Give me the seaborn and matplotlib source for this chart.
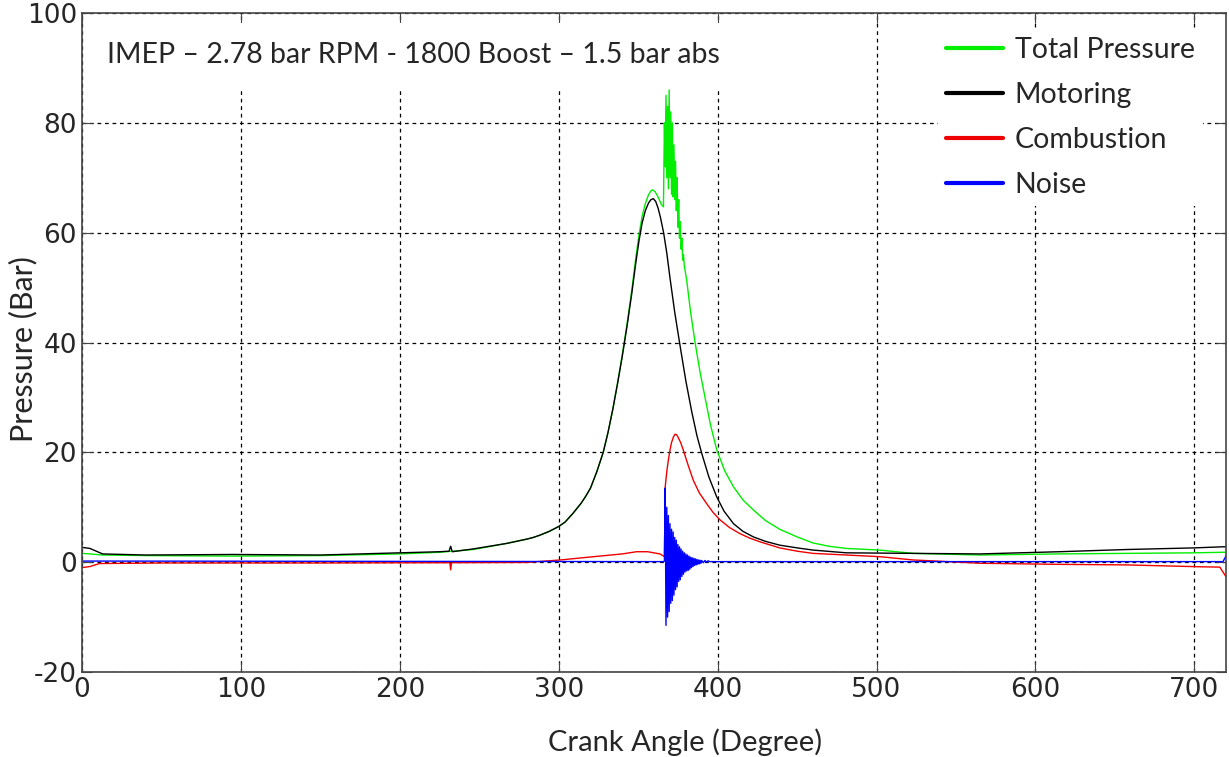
import seaborn as sns
import matplotlib.pyplot as plt

# crank angle (deg) and pressure (bar)
motoring_angle = [0, 5, 13, 40, 95, 150, 200, 225, 231, 232, 233, 246, 267, 280, 284, 288,
                  294, 296, 300, 304, 306.5, 309, 311.5, 314, 317, 320, 324, 328, 331, 334,
                  337, 340, 343, 346, 348.5, 350.5, 352.5, 354.5, 356.5, 358, 359.5, 361,
                  362.5, 364, 366, 368, 370, 373, 376.3, 380, 383.7, 387, 390, 394.5, 399.4,
                  404, 410, 416, 422.5, 430, 439, 450, 460, 481, 523, 565, 615, 657, 700,
                  718, 720]
motoring = [2.7, 2.5, 1.5, 1.3, 1.4, 1.3, 1.7, 1.9, 2.0, 2.9, 1.9, 2.4, 3.4, 4.2, 4.5, 4.9,
            5.6, 5.9, 6.5, 7.3, 8.1, 8.9, 9.8, 10.7, 12.0, 13.5, 16.5, 20.0, 23.6, 27.8,
            32.5, 37.5, 43.0, 49.0, 54.5, 58.5, 61.8, 64.0, 65.4, 66.0, 66.2, 65.7,
            64.5, 62.8, 60.0, 56.3, 51.8, 45.5, 39.5, 33.0, 27.4, 23.0, 19.8, 15.5, 11.9,
            9.3, 7.0, 5.6, 4.6, 3.8, 3.1, 2.6, 2.2, 1.7, 1.6, 1.5, 1.9, 2.3, 2.6,
            2.8, 2.8]

total_angle = [0, 5, 13, 40, 95, 150, 200, 225, 246, 267, 280, 284, 288, 294, 296, 300, 304,
               306.5, 309, 311.5, 314, 317, 320, 324, 328, 331, 334, 337, 340, 343, 346,
               348.5, 350.5, 352.5, 354.5, 356.5, 358, 359, 360.5, 362, 364.5, 365.9,
               366.5, 367.0, 367.5, 368.0, 368.5, 369.0, 369.5, 370.0, 370.5, 371.0,
               371.5, 372.0, 372.5, 373.0, 373.5, 374.0, 374.5, 375.0, 375.5, 376.0,
               376.5, 377.0, 377.5, 378.0, 378.5, 379.0,
               380.5, 383, 385.8, 389, 392, 395.5, 399.4, 404.5, 410, 416, 422.5, 430,
               439, 450, 460, 470, 481, 502, 523, 565, 615, 657, 700, 718, 720]
total_pressure = [1.6, 1.5, 1.3, 1.2, 1.1, 1.2, 1.5, 1.8, 2.3, 3.4, 4.2, 4.5, 4.9, 5.6, 5.9, 6.5, 7.3,
                  8.1, 8.9, 9.8, 10.7, 12.0, 13.5, 16.5, 20.0, 23.6, 27.8, 32.6, 37.8, 43.4, 49.6,
                  55.4, 59.6, 63.0, 65.3, 66.9, 67.6, 67.8, 67.5, 66.8, 65.2, 64.7,
                  80.0, 72.0, 85.0, 70.0, 83.0, 68.0, 86.0, 70.0, 82.0, 67.0,
                  80.0, 66.5, 76.0, 66.0, 73.0, 64.0, 70.0, 61.0, 66.0, 59.0,
                  62.0, 57.0, 59.0, 55.0, 56.0, 54.0,
                  51.4, 45.5, 40.0, 34.5, 30.1, 25.0, 20.5, 16.6, 13.7, 11.3, 9.5, 7.6,
                  6.0, 4.6, 3.5, 2.9, 2.5, 2.2, 1.6, 1.3, 1.5, 1.6, 1.7, 1.8, 1.8]

combustion_angle = [0, 5, 11, 50, 150, 230, 231.5, 232, 232.5, 234, 280, 301, 322, 340, 349,
                    356, 363.7, 366.5, 367, 368, 369, 370, 371, 372.2, 373.2, 374.2, 375,
                    376.7, 378.4, 381.5, 384.7, 388.5, 393, 397, 401.5, 407.5, 414, 420,
                    426.7, 439, 450, 460, 481, 502, 523, 545, 565, 615, 657, 705, 716, 720]
combustion = [-1.0, -0.8, -0.25, -0.15, -0.15, -0.1, -0.1, -1.4, -0.1, -0.1, -0.05, 0.4, 1.0, 1.5, 1.9,
              1.9, 1.5, 1.0, 13.7, 16.5, 18.6, 20.4, 21.8, 22.8, 23.3, 23.2, 22.8,
              21.8, 20.4, 17.6, 14.9, 12.6, 10.7, 9.1, 7.7, 6.3, 5.2, 4.4,
              3.7, 2.6, 2.0, 1.6, 1.3, 1.0, 0.4, 0.1, -0.2, -0.4, -0.5, -0.85, -0.9, -2.7]

noise_angle = [0, 366.0, 366.5, 367.0, 367.5, 368.0, 368.5, 369.0, 369.5, 370.0, 370.5,
               371.0, 371.5, 372.0, 372.5, 373.0, 373.5, 374.0, 374.5, 375.0, 375.5,
               376.0, 376.5, 377.0, 377.5, 378.0, 378.5, 379.0, 379.5, 380.0, 380.5,
               381.0, 381.5, 382.0, 382.5, 383.0, 383.5, 384.0, 384.5, 385.0, 385.5,
               386.0, 386.5, 387.0, 387.5, 388.0, 388.5, 389.0, 389.5, 390, 391, 392,
               393, 394, 395, 718, 720]
noise = [0.2, 0.1, 0.2, 13.5, -11.5, 10.0, -10.0, 8.5, -9.0, 7.0, -7.5,
         6.0, -7.0, 5.5, -6.0, 4.5, -5.0, 4.0, -4.5, 3.2, -3.5,
         2.8, -3.2, 2.4, -2.6, 2.0, -2.2, 1.7, -1.8, 1.5, -1.6,
         1.3, -1.5, 1.1, -1.3, 0.9, -1.0, 0.8, -0.8, 0.7, -0.6,
         0.6, -0.5, 0.5, -0.4, 0.4, -0.3, 0.35, -0.2, 0.3, -0.1, 0.3,
         0.0, 0.25, 0.1, 0.1, 1.2]

sns.set_style("ticks")
plt.rcParams["font.family"] = ["Lato", "DejaVu Sans"]
plt.rcParams["axes.unicode_minus"] = False

fig = plt.figure(figsize=(12.29, 7.57), dpi=100)
ax = fig.add_axes([0.0667, 0.1123, 0.931, 0.8705])

sns.lineplot(x=total_angle, y=total_pressure, color="#00ee00", lw=1, label="Total Pressure", ax=ax, estimator=None)
sns.lineplot(x=motoring_angle, y=motoring, color="black", lw=1, label="Motoring", ax=ax, estimator=None)
sns.lineplot(x=combustion_angle, y=combustion, color="#ee0000", lw=1, label="Combustion", ax=ax, estimator=None)
sns.lineplot(x=noise_angle, y=noise, color="#0000ff", lw=1, label="Noise", ax=ax, estimator=None)

ax.set_xlim(0, 720)
ax.set_ylim(-20, 100)
ax.set_xticks(range(0, 701, 100))
ax.set_yticks(range(-20, 101, 20))
ax.grid(True, color="black", linestyle=(0, (3, 3)), linewidth=0.9)
for s in ax.spines.values():
    s.set_color("#444444")
    s.set_linewidth(1.2)
ax.tick_params(direction="in", length=7, top=True, right=True, color="#444444",
               labelsize=19, labelfontfamily="DejaVu Sans")

ax.set_xlabel("Crank Angle (Degree)", fontsize=21)
ax.xaxis.set_label_coords(0.527, -0.085)
ax.set_ylabel("Pressure (Bar)", fontsize=22)
ax.yaxis.set_label_coords(-0.039, 0.49)

ax.text(0.022, 0.936, "IMEP \u2013 2.78 bar RPM - 1800 Boost \u2013 1.5 bar abs", transform=ax.transAxes,
        fontsize=20.5, va="center", ha="left", zorder=3,
        bbox=dict(facecolor="white", edgecolor="none", pad=14))

leg = ax.legend(loc="upper left", bbox_to_anchor=(0.748, 0.977), fontsize=20.5, frameon=True,
                facecolor="white", edgecolor="none", framealpha=1, fancybox=False,
                handlelength=2.0, handletextpad=0.4, labelspacing=0.67, borderpad=0.3,
                borderaxespad=0)
for h in leg.get_lines():
    h.set_linewidth(3)

fig.savefig("out.png", dpi=100)
